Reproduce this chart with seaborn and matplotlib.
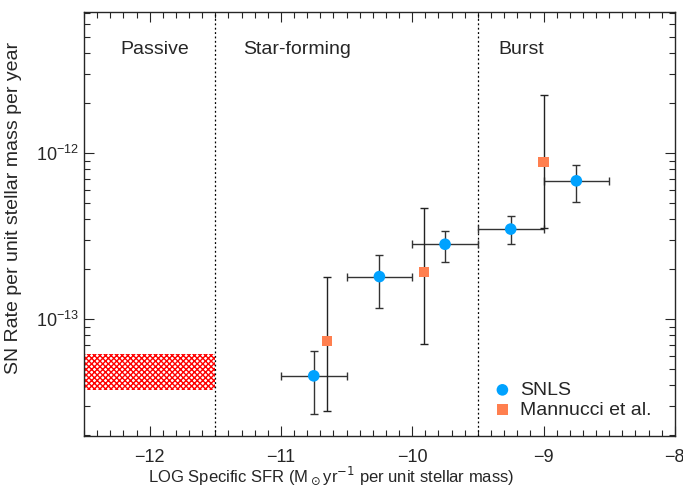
import numpy as np
import pandas as pd
import seaborn as sns
import matplotlib.pyplot as plt
from matplotlib.ticker import MultipleLocator, NullFormatter

# SNLS points
snls_x = [-10.75, -10.25, -9.75, -9.25, -8.75]
snls_xerr = [0.25, 0.25, 0.25, 0.25, 0.25]
snls_y = [4.54e-14, 1.80e-13, 2.82e-13, 3.48e-13, 6.8e-13]
snls_ylo = [2.68e-14, 1.16e-13, 2.20e-13, 2.83e-13, 5.1e-13]
snls_yhi = [6.4e-14, 2.43e-13, 3.40e-13, 4.17e-13, 8.47e-13]

# Mannucci et al. points
mann_x = [-10.65, -9.91, -9.0]
mann_y = [7.34e-14, 1.92e-13, 8.8e-13]
mann_ylo = [2.8e-14, 7.08e-14, 3.52e-13]
mann_yhi = [1.78e-13, 4.65e-13, 2.24e-12]

# passive band
passive_x = [-12.5, -11.5]
passive_band = [3.73e-14, 6.17e-14]

regions = ["Passive", "Star-forming", "Burst"]
region_x = [-11.96, -10.88, -9.17]
region_edges = [-11.5, -9.5]

sns.set_style("ticks")
plt.rcParams['font.family'] = ['Liberation Sans', 'DejaVu Sans']
plt.rcParams['hatch.linewidth'] = 1.0
plt.rcParams['hatch.color'] = 'red'

fig = plt.figure(figsize=(6.83, 4.91), dpi=100)
ax = fig.add_axes([0.123, 0.112, 0.865, 0.864])

ax.fill_between(passive_x, passive_band[0], passive_band[1], facecolor='white',
                edgecolor='red', hatch='xxxxxx', linewidth=0)

for e in region_edges:
    ax.axvline(e, color='black', linestyle=(0, (1.5, 2)), linewidth=0.9)

sy = np.array(snls_y)
ax.errorbar(snls_x, snls_y, xerr=snls_xerr,
            yerr=[sy - np.array(snls_ylo), np.array(snls_yhi) - sy],
            fmt='none', ecolor='#333333', elinewidth=1, capsize=3, capthick=1)
my = np.array(mann_y)
ax.errorbar(mann_x, mann_y,
            yerr=[my - np.array(mann_ylo), np.array(mann_yhi) - my],
            fmt='none', ecolor='#222222', elinewidth=1, capsize=3, capthick=1)

df_s = pd.DataFrame({'x': snls_x, 'y': snls_y})
df_m = pd.DataFrame({'x': mann_x, 'y': mann_y})
sns.scatterplot(data=df_s, x='x', y='y', ax=ax, color='#00a2ff', marker='o',
                s=70, edgecolor='none', label='SNLS', zorder=5)
sns.scatterplot(data=df_m, x='x', y='y', ax=ax, color='#ff7f4f', marker='s',
                s=55, edgecolor='none', label='Mannucci et al.', zorder=5)

ax.set_yscale('log')
ax.set_xlim(-12.5, -8)
ax.set_ylim(1.97e-14, 7.1e-12)
ax.yaxis.set_minor_formatter(NullFormatter())
ax.xaxis.set_major_locator(MultipleLocator(1))
ax.xaxis.set_minor_locator(MultipleLocator(0.1))
ax.tick_params(which='both', direction='in', top=True, right=True, labelsize=13)
ax.tick_params(axis='x', which='major', pad=9)
ax.tick_params(which='major', length=7, width=0.8)
ax.tick_params(which='minor', length=4, width=0.8)
ax.set_xticks([-12, -11, -10, -9, -8])
ax.set_xticklabels(['\u221212', '\u221211', '\u221210', '\u22129', '\u22128'])

for lab, x in zip(regions, region_x):
    ax.text(x, 4.2e-12, lab, ha='center', va='center', fontsize=14)

ax.set_xlabel(r"LOG Specific SFR (M$_\odot$yr$^{-1}$ per unit stellar mass)", fontsize=12)
ax.xaxis.set_label_coords(0.418, -0.068)
ax.set_ylabel("SN Rate per unit stellar mass per year", fontsize=14)
ax.yaxis.set_label_coords(-0.105, 0.538)

ax.legend(loc='lower right', frameon=False, fontsize=14, handletextpad=-0.1,
          borderaxespad=0.5, labelspacing=0.1, bbox_to_anchor=(0.99, 0.0))

for sp in ax.spines.values():
    sp.set_linewidth(1)

plt.savefig('out.png', dpi=100)
